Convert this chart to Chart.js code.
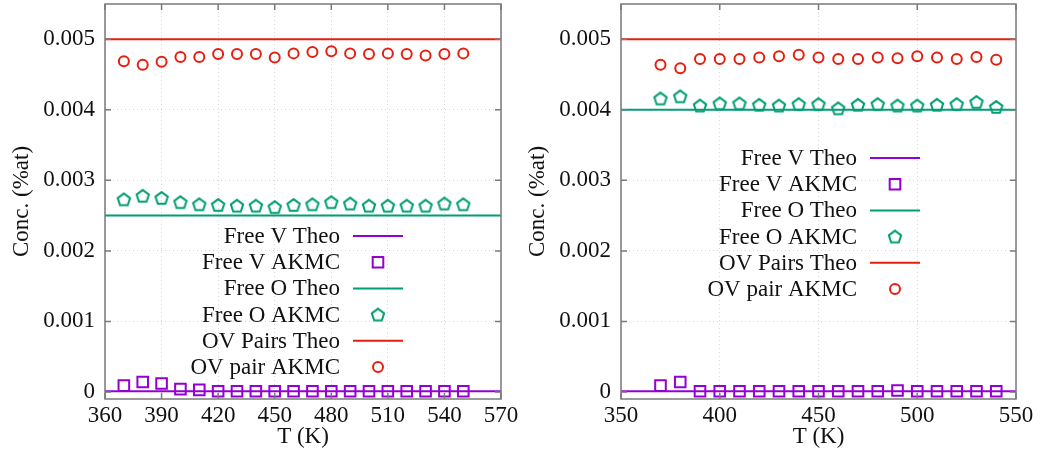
<!DOCTYPE html>
<html>
<head>
<meta charset="utf-8">
<script src="https://cdn.jsdelivr.net/npm/chart.js@4.4.1/dist/chart.umd.min.js"></script>
<style>
    body { margin: 0; background: #fff; }
    #wrap { position: relative; width: 1040px; height: 451px; }
    canvas { position: absolute; top: 0; }
</style>
</head>
<body>
<div id="wrap">
    <canvas id="leftChart" width="520" height="451" style="left:0"></canvas>
    <canvas id="rightChart" width="520" height="451" style="left:520px"></canvas>
</div>
<script>
// Series names, shared by both panels
const LABELS = ['Free V Theo', 'Free V AKMC', 'Free O Theo', 'Free O AKMC', 'OV Pairs Theo', 'OV pair AKMC'];
const COLOR_V = '#9400d3';
const COLOR_O = '#009e73';
const COLOR_PAIR = '#e51e10';
const FONT = '"Liberation Serif", "DejaVu Serif", serif';

// Concentration axis (both panels)
const concTicks = [0, 0.001, 0.002, 0.003, 0.004, 0.005];
const concRange = [-0.0001, 0.0055];

// Left panel
const leftTemps = [370, 380, 390, 400, 410, 420, 430, 440, 450, 460, 470, 480, 490, 500, 510, 520, 530, 540, 550];
const leftFreeV = [0.00009, 0.00014, 0.00012, 0.00004, 0.00003, 0.00001, 0.00001, 0.00001, 0.00001, 0.00001,
                   0.00001, 0.00001, 0.00001, 0.00001, 0.00001, 0.00001, 0.00001, 0.00001, 0.00001];
const leftFreeO = [0.00273, 0.00278, 0.00275, 0.00269, 0.00266, 0.00265, 0.00264, 0.00264, 0.00262, 0.00265,
                   0.00266, 0.00269, 0.00267, 0.00264, 0.00264, 0.00264, 0.00264, 0.00267, 0.00266];
const leftPairs = [0.00469, 0.00464, 0.00468, 0.00475, 0.00475, 0.00479, 0.00479, 0.00479, 0.00474, 0.00480,
                   0.00482, 0.00483, 0.00480, 0.00479, 0.00480, 0.00479, 0.00477, 0.00479, 0.00480];
const leftTheo = [0.00001, 0.0025, 0.005];   // V, O, pairs
const leftRange = [360, 570];
const leftTicks = [360, 390, 420, 450, 480, 510, 540, 570];

// Right panel
const rightTemps = [370, 380, 390, 400, 410, 420, 430, 440, 450, 460, 470, 480, 490, 500, 510, 520, 530, 540];
const rightFreeV = [0.00009, 0.00014, 0.00001, 0.00001, 0.00001, 0.00001, 0.00001, 0.00001, 0.00001,
                    0.00001, 0.00001, 0.00001, 0.00002, 0.00001, 0.00001, 0.00001, 0.00001, 0.00001];
const rightFreeO = [0.00416, 0.00419, 0.00406, 0.00409, 0.00409, 0.00407, 0.00406, 0.00408, 0.00408,
                    0.00402, 0.00407, 0.00408, 0.00406, 0.00406, 0.00407, 0.00408, 0.00411, 0.00404];
const rightPairs = [0.00464, 0.00459, 0.00472, 0.00472, 0.00472, 0.00474, 0.00476, 0.00478, 0.00474,
                    0.00472, 0.00472, 0.00474, 0.00473, 0.00476, 0.00474, 0.00472, 0.00475, 0.00471];
const rightTheo = [0.00001, 0.004, 0.005];
const rightRange = [350, 550];
const rightTicks = [350, 400, 450, 500, 550];

// Open pentagon marker (Chart.js has no pentagon style)
function makePentagon(color) {
    const c = document.createElement('canvas');
    c.width = 18; c.height = 18;
    const g = c.getContext('2d');
    g.strokeStyle = color;
    g.lineWidth = 2;
    g.beginPath();
    for (let i = 0; i < 5; i++) {
        const a = -Math.PI / 2 + i * 2 * Math.PI / 5;
        const px = 9 + 6.5 * Math.cos(a), py = 9.6 + 6.5 * Math.sin(a);
        if (i === 0) g.moveTo(px, py); else g.lineTo(px, py);
    }
    g.closePath();
    g.stroke();
    return c;
}
const pentagon = makePentagon(COLOR_O);

// Frame with inward tick marks on all four sides, gnuplot style
const framePlugin = {
    id: 'frame',
    afterDraw(chart) {
        const { ctx, chartArea: a, scales } = chart;
        ctx.save();
        ctx.strokeStyle = '#7a7a7a';
        ctx.lineWidth = 1.5;
        ctx.strokeRect(a.left, a.top, a.right - a.left, a.bottom - a.top);
        ctx.beginPath();
        scales.x.ticks.forEach(t => {
            const px = scales.x.getPixelForValue(t.value);
            ctx.moveTo(px, a.bottom); ctx.lineTo(px, a.bottom - 6);
            ctx.moveTo(px, a.top); ctx.lineTo(px, a.top + 6);
        });
        scales.y.ticks.forEach(t => {
            const py = scales.y.getPixelForValue(t.value);
            ctx.moveTo(a.left, py); ctx.lineTo(a.left + 6, py);
            ctx.moveTo(a.right, py); ctx.lineTo(a.right - 6, py);
        });
        ctx.stroke();
        ctx.restore();
    }
};

// Key inside the plot: right aligned text, sample to the right
const keyPlugin = {
    id: 'key',
    afterDraw(chart, args, opts) {
        const { ctx } = chart;
        ctx.save();
        ctx.font = '23px ' + FONT;
        ctx.textAlign = 'right';
        ctx.textBaseline = 'middle';
        chart.data.datasets.forEach((ds, i) => {
            const y = opts.top + i * opts.rowHeight;
            ctx.fillStyle = '#111';
            ctx.fillText(ds.label, opts.right, y + 1);
            const sx = opts.right + 13;
            if (ds.showLine) {
                ctx.strokeStyle = ds.borderColor;
                ctx.lineWidth = ds.borderWidth;
                ctx.beginPath();
                ctx.moveTo(sx, y); ctx.lineTo(sx + 50, y);
                ctx.stroke();
            } else {
                ctx.strokeStyle = ds.borderColor;
                ctx.fillStyle = 'rgba(0,0,0,0)';
                ctx.lineWidth = ds.borderWidth;
                Chart.helpers.drawPoint(ctx, {
                    pointStyle: ds.pointStyle, radius: ds.pointRadius,
                    borderWidth: ds.borderWidth, rotation: 0
                }, sx + 25, y);
            }
        });
        ctx.restore();
    }
};

function theoLine(label, level, range, color) {
    return {
        label: label,
        data: range.map(x => ({ x: x, y: level })),
        showLine: true,
        borderColor: color,
        borderWidth: 2,
        pointRadius: 0
    };
}

function markers(label, temps, values, color, style, radius) {
    return {
        label: label,
        data: temps.map((t, i) => ({ x: t, y: values[i] })),
        showLine: false,
        borderColor: color,
        backgroundColor: 'rgba(0,0,0,0)',
        borderWidth: 2,
        pointStyle: style,
        pointRadius: radius
    };
}

function createPanel(elementId, p) {
    const ctx = document.getElementById(elementId).getContext('2d');
    return new Chart(ctx, {
        type: 'scatter',
        data: {
            datasets: [
                theoLine(LABELS[0], p.theo[0], p.range, COLOR_V),
                markers(LABELS[1], p.temps, p.freeV, COLOR_V, 'rect', 7.5),
                theoLine(LABELS[2], p.theo[1], p.range, COLOR_O),
                markers(LABELS[3], p.temps, p.freeO, COLOR_O, pentagon, 7),
                theoLine(LABELS[4], p.theo[2], p.range, COLOR_PAIR),
                markers(LABELS[5], p.temps, p.pairs, COLOR_PAIR, 'circle', 5)
            ]
        },
        options: {
            responsive: false,
            animation: false,
            events: [],
            layout: {
                autoPadding: false,
                padding: { top: 4, right: p.padRight, left: 0, bottom: 0 }
            },
            plugins: {
                legend: { display: false },
                tooltip: { enabled: false },
                key: { right: p.keyRight, top: p.keyTop, rowHeight: 26.2 }
            },
            scales: {
                x: {
                    type: 'linear',
                    min: p.range[0],
                    max: p.range[1],
                    afterBuildTicks: s => { s.ticks = p.ticks.map(v => ({ value: v })); },
                    afterFit: s => { s.height = 52; s.paddingLeft = 0; s.paddingRight = 0; },
                    ticks: {
                        font: { family: FONT, size: 23 },
                        color: '#111',
                        padding: 3
                    },
                    grid: { color: '#d8d8d8', drawTicks: false },
                    border: { display: false, dash: [1, 3] },
                    title: {
                        display: true,
                        text: 'T (K)',
                        font: { family: FONT, size: 23 },
                        color: '#111',
                        padding: { top: 0, bottom: 0 }
                    }
                },
                y: {
                    type: 'linear',
                    min: concRange[0],
                    max: concRange[1],
                    afterBuildTicks: s => { s.ticks = concTicks.map(v => ({ value: v })); },
                    afterFit: s => { s.width = p.yWidth; s.paddingTop = 0; s.paddingBottom = 0; },
                    ticks: {
                        font: { family: FONT, size: 23 },
                        color: '#111',
                        padding: 10,
                        callback: v => v === 0 ? '0' : v.toFixed(3)
                    },
                    grid: { color: '#d8d8d8', drawTicks: false },
                    border: { display: false, dash: [1, 3] },
                    title: {
                        display: true,
                        text: 'Conc. (%at)',
                        font: { family: FONT, size: 23 },
                        color: '#111',
                        padding: { top: p.titlePad, bottom: 0 }
                    }
                }
            }
        },
        plugins: [framePlugin, keyPlugin]
    });
}

createPanel('leftChart', {
    temps: leftTemps, freeV: leftFreeV, freeO: leftFreeO, pairs: leftPairs,
    theo: leftTheo, range: leftRange, ticks: leftTicks,
    padRight: 19, yWidth: 105, titlePad: 8, keyRight: 340, keyTop: 236
});

createPanel('rightChart', {
    temps: rightTemps, freeV: rightFreeV, freeO: rightFreeO, pairs: rightPairs,
    theo: rightTheo, range: rightRange, ticks: rightTicks,
    padRight: 24, yWidth: 101, titlePad: 4, keyRight: 337, keyTop: 158
});
</script>
</body>
</html>
